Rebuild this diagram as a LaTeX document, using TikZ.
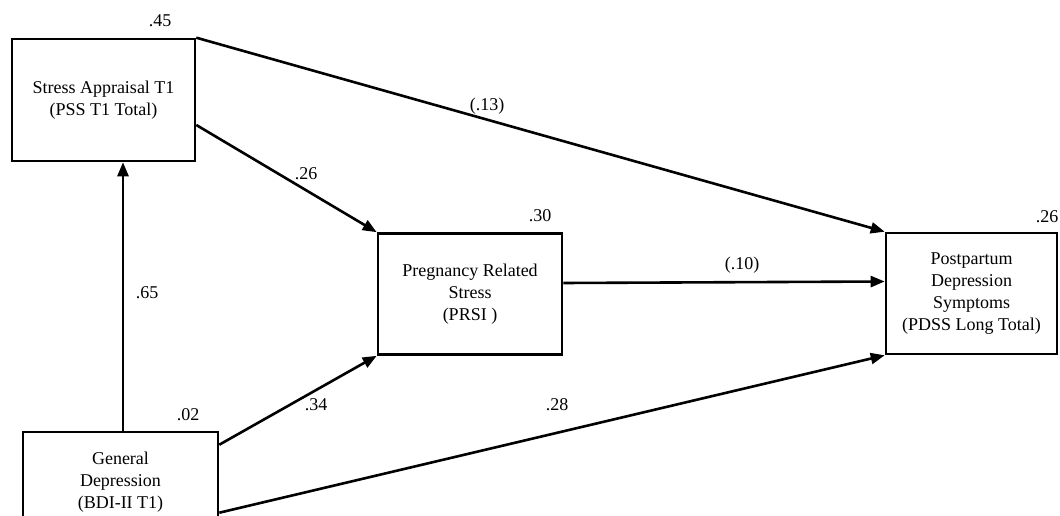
\documentclass[tikz,border=0pt]{standalone}
\usepackage{fontspec}
\setmainfont{Liberation Serif}
\usetikzlibrary{arrows.meta}
\begin{document}
\begin{tikzpicture}[x=1pt,y=-1pt,
  box/.style={draw, line width=2.6pt, inner sep=0pt, align=center,
    font=\fontsize{18}{22}\selectfont},
  lbl/.style={inner sep=0pt, font=\fontsize{18}{22}\selectfont},
  path/.style={line width=2.6pt, -{Triangle[length=14pt,width=11pt]}}]
\useasboundingbox (0,0) rectangle (1060,516);
\clip (0,0) rectangle (1060,516);
\node[box, minimum width=183pt, minimum height=122pt] (A) at (103.5,100) {Stress Appraisal T1\\(PSS T1 Total)};
\node[box, minimum width=184pt, minimum height=121pt] (B) at (470,294) {Pregnancy Related\\Stress\\(PRSI )};
\node[box, minimum width=171pt, minimum height=121pt] (C) at (971.5,293.5) {Postpartum\\Depression\\Symptoms\\(PDSS Long Total)};
\node[box, minimum width=195pt, minimum height=100pt] (D) at (120.5,482) {General\\Depression\\(BDI-II T1)};
\draw[path] ([xshift=2.5pt]D.north) -- ([xshift=2.5pt]D.north |- A.south);
\draw[path] (A.north east) -- (C.north west);
\draw[path] ([yshift=-25pt]A.east) -- (B.north west);
\draw[path] ([yshift=11pt]B.east) -- ([yshift=12pt]C.west);
\draw[path] ([yshift=-14pt]D.north east) -- (B.south west);
\draw[path] ([yshift=-82pt]D.north east) -- (C.south west);
\node[lbl] (l45) at (160,21) {.45};
\node[lbl] (l13) at (487,106) {(.13)};
\node[lbl] (l26a) at (306,174) {.26};
\node[lbl] (l30) at (540,216) {.30};
\node[lbl] (l10) at (742,265) {(.10)};
\node[lbl] (l26b) at (1047,217) {.26};
\node[lbl] (l65) at (147,293) {.65};
\node[lbl] (l02) at (188,415) {.02};
\node[lbl] (l34) at (316,405) {.34};
\node[lbl] (l28) at (557,405) {.28};
\end{tikzpicture}
\end{document}
